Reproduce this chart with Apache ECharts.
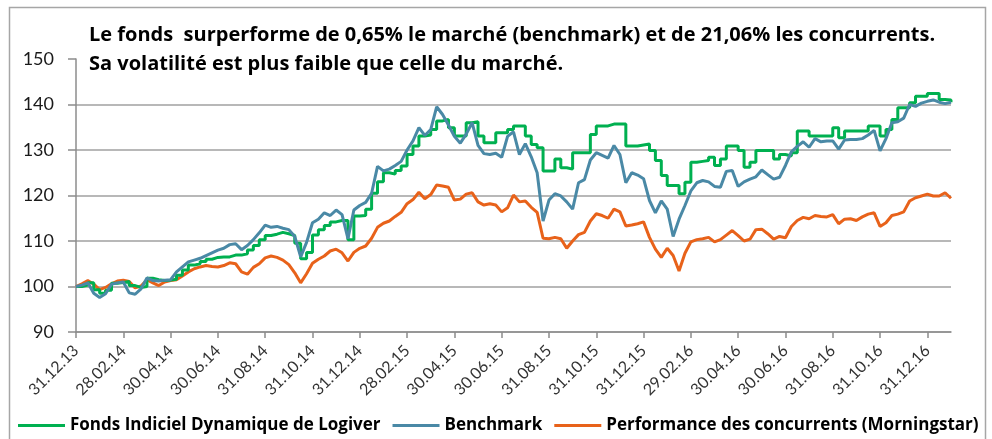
<!DOCTYPE html>
<html>
<head>
<meta charset="utf-8">
<script src="https://cdn.jsdelivr.net/npm/echarts@6/dist/echarts.min.js"></script>
<style>html,body{margin:0;padding:0;background:#fff}#c{width:992px;height:439px}</style>
</head>
<body>
<div id="c"></div>
<script>
const titleLines = [
  "Le fonds  surperforme de 0,65% le marché (benchmark) et de 21,06% les concurrents.",
  "Sa volatilité est plus faible que celle du marché."
];
const tickLabels = ["31.12.13","28.02.14","30.04.14","30.06.14","31.08.14","31.10.14","31.12.14","28.02.15","30.04.15","30.06.15","31.08.15","31.10.15","31.12.15","29.02.16","30.04.16","30.06.16","31.08.16","31.10.16","31.12.16"];
const pointsPerTick = 8;
const seriesNames = ["Fonds Indiciel Dynamique de Logiver","Benchmark","Performance des concurrents (Morningstar)"];

const fonds = [
100,100.3,100.8,99.3,98.5,99.2,100.7,100.9,101.1,100.2,99.8,100.0,101.8,101.5,101.3,101.4,101.6,102.5,103.6,104.7,
105.0,105.5,106.0,106.4,106.5,106.5,106.9,106.9,107.2,108.0,109.0,110.3,111.2,111.5,111.9,111.6,111.2,109.5,106.1,107.5,
111.3,112.5,113.4,114.2,114.5,114.5,110.3,115.5,115.6,117.0,120.5,123.0,125.0,124.7,125.5,126.5,129.0,130.9,133.1,133.3,
134.5,136.4,136.7,134.9,133.1,133.1,136.0,136.2,133.1,131.6,131.6,133.8,133.8,134.5,135.3,135.3,133.1,131.2,130.5,125.4,
125.4,128.0,126.1,125.8,129.4,129.4,129.4,133.4,135.3,135.3,135.7,135.7,135.7,130.9,130.9,131.1,131.3,129.9,127.7,124.4,
122.2,122.2,120.4,122.9,127.3,127.5,127.7,128.4,126.6,128.0,130.9,130.9,129.9,126.2,127.3,129.9,129.9,129.9,128.0,129.0,
128.7,129.4,134.2,134.2,133.1,133.1,133.1,133.1,134.9,132.7,134.2,134.2,134.2,134.2,135.3,135.3,133.1,134.5,136.7,139.3,
139.3,140.4,141.8,141.8,142.4,142.4,141.1,141.0,140.5
];
const benchmark = [
100,100.3,100.8,98.5,97.6,98.4,100.5,100.8,101.0,98.6,98.3,99.5,101.9,101.3,101.2,101.4,101.5,103.2,104.3,105.4,
105.8,106.2,106.8,107.4,108.0,108.4,109.2,109.4,108.1,109.0,110.3,111.8,113.5,113.0,113.2,112.8,112.5,111.0,106.5,109.7,
114.0,114.8,116.2,115.6,116.8,115.8,110.5,116.8,117.8,118.5,120.5,126.4,125.4,125.8,126.6,127.5,130.0,132.0,134.9,133.2,
134.5,139.5,137.8,135.5,133.0,131.5,133.5,136.0,131.0,129.2,129.0,129.3,128.4,133.0,134.0,129.0,131.4,128.5,125.0,114.4,
119.0,120.4,119.9,118.6,117.0,122.8,123.5,127.8,129.4,128.8,128.2,131.0,129.0,122.8,125.0,124.5,123.7,118.9,116.2,118.8,
117.0,111.0,114.8,117.8,121.0,122.8,123.3,123.0,122.0,121.8,125.3,125.5,122.0,123.0,123.6,124.1,125.6,124.6,123.6,124.0,
126.6,129.6,130.8,131.8,130.6,132.5,131.8,132.0,132.0,130.2,132.2,132.3,132.3,132.5,133.3,134.3,129.8,132.5,136.0,136.2,
137.0,140.0,139.6,140.3,140.7,141.0,140.5,140.2,140.5
];
const concurrents = [
100,100.6,101.3,100.5,99.3,99.8,100.6,101.2,101.4,101.1,99.7,100.1,101.5,100.8,100.2,101.0,101.3,101.5,102.3,103.2,
103.9,104.3,104.6,104.4,104.3,104.6,105.2,105.0,103.2,102.7,104.2,105.0,106.3,106.7,106.4,105.8,104.8,103.0,100.8,102.8,
105.1,106.0,106.7,107.8,108.2,107.4,105.6,107.5,108.4,108.9,110.6,113.0,113.9,114.4,115.4,116.3,118.2,119.1,120.7,119.3,
120.2,122.3,122.1,121.8,119.0,119.2,120.3,120.6,118.6,117.9,118.2,117.9,116.4,117.3,120.1,118.6,118.8,117.4,116.3,110.6,
110.5,110.8,110.5,108.4,110.0,111.4,111.9,114.4,116.0,115.6,115.0,117.0,116.4,113.3,113.5,113.8,114.2,110.8,108.2,106.4,
108.4,106.8,103.4,107.3,109.8,110.3,110.5,110.8,109.8,110.3,111.3,112.3,111.2,110.0,110.4,112.5,112.6,111.6,110.4,111.0,
110.7,113.2,114.5,115.2,114.9,115.6,115.4,115.3,115.8,113.8,114.8,114.9,114.5,115.3,115.9,116.2,113.2,114.0,115.6,115.9,
116.4,118.8,119.5,119.9,120.3,119.9,119.9,120.6,119.4
];

const categories = fonds.map((_, i) => (i % pointsPerTick === 0 && tickLabels[i / pointsPerTick]) ? tickLabels[i / pointsPerTick] : ('p' + i));
const showTick = (idx) => idx % pointsPerTick === 0 && idx / pointsPerTick < tickLabels.length;

const chart = echarts.init(document.getElementById('c'), null, {renderer: 'canvas'});
const FONT = '"Open Sans", sans-serif';
const LFONT = 'Lato, sans-serif';
chart.setOption({
  animation: false,
  backgroundColor: '#fff',
  color: ['#00B050', '#4A89A6', '#E8621A'],
  graphic: [{
    type: 'rect', left: 7, top: 5, z: 100, silent: true,
    shape: {width: 976, height: 440},
    style: {fill: 'none', stroke: '#a6a6a6', lineWidth: 1.5}
  }],
  title: {
    text: titleLines.join('\n'),
    left: 84, top: 16,
    textStyle: {fontFamily: FONT, fontSize: 20, fontWeight: 'bold', color: '#000', lineHeight: 29}
  },
  grid: {left: 76, right: 41, top: 59, bottom: 107},
  legend: {
    bottom: 0, left: 13,
    itemGap: 12, itemWidth: 47, itemHeight: 3, icon: 'rect',
    textStyle: {fontFamily: FONT, fontSize: 17, fontWeight: 'bold', color: '#000'},
    data: seriesNames
  },
  xAxis: {
    type: 'category', boundaryGap: false, data: categories,
    axisLine: {lineStyle: {color: '#8c8c8c', width: 1.5}},
    axisTick: {interval: showTick, length: 6, lineStyle: {color: '#8c8c8c', width: 1.5}},
    axisLabel: {interval: showTick, rotate: 45, fontFamily: LFONT, fontSize: 16, color: '#333', margin: 16},
    splitLine: {show: false}
  },
  yAxis: {
    type: 'value', min: 90, max: 150, interval: 10,
    axisLine: {show: true, lineStyle: {color: '#8c8c8c', width: 1.5}},
    axisTick: {show: true, length: 8, lineStyle: {color: '#8c8c8c', width: 1.5}},
    axisLabel: {fontFamily: LFONT, fontSize: 18, color: '#1a1a1a', margin: 22},
    splitLine: {show: true, showMaxLine: false, lineStyle: {color: '#a0a0a0', width: 1.5}}
  },
  series: [
    {name: seriesNames[0], type: 'line', data: fonds, step: 'end', showSymbol: false, lineStyle: {width: 3}, z: 3},
    {name: seriesNames[1], type: 'line', data: benchmark, showSymbol: false, lineStyle: {width: 3}, z: 4},
    {name: seriesNames[2], type: 'line', data: concurrents, showSymbol: false, lineStyle: {width: 3}, z: 2}
  ]
});
</script>
</body>
</html>
